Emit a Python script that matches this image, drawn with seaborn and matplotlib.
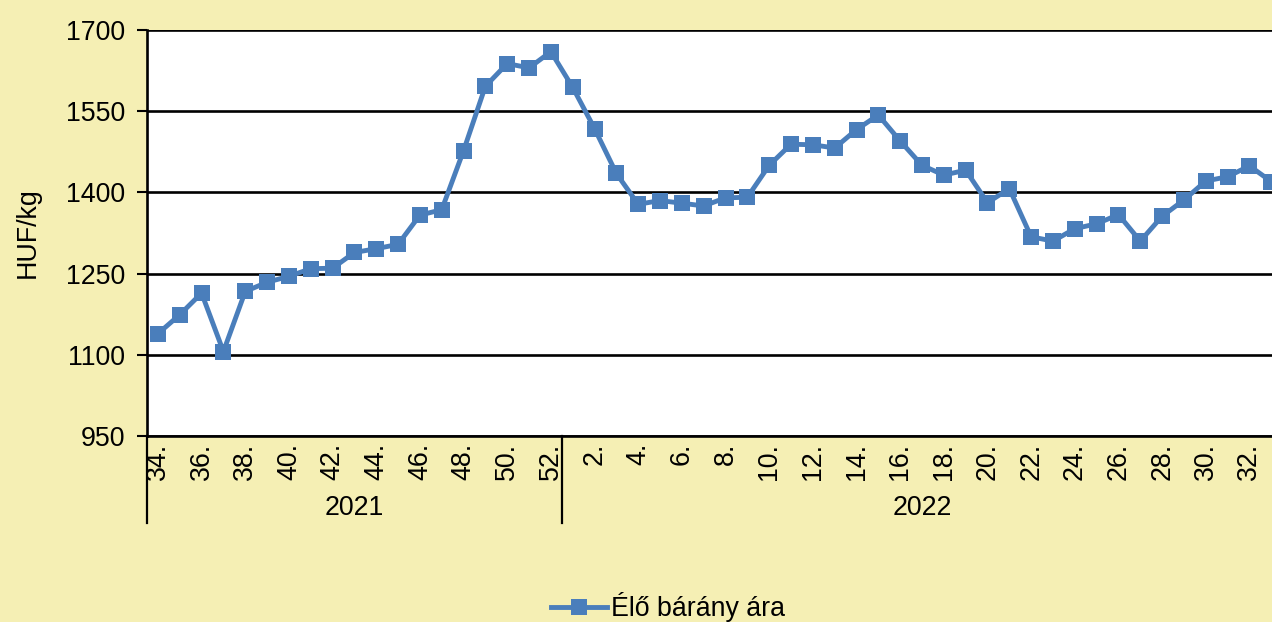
import matplotlib
matplotlib.use("Agg")
import matplotlib.pyplot as plt
import matplotlib.transforms as mtransforms
import seaborn as sns
import pandas as pd

# Weekly live lamb prices (HUF/kg)
weeks_2021 = list(range(34, 53))
weeks_2022 = list(range(1, 34))
prices_2021 = [1139, 1174, 1214, 1106, 1217, 1234, 1245, 1259, 1260, 1289,
               1296, 1304, 1358, 1368, 1477, 1596, 1638, 1630, 1660]
prices_2022 = [1594, 1518, 1435, 1378, 1385, 1380, 1375, 1390, 1391, 1450,
               1489, 1488, 1482, 1516, 1543, 1495, 1450, 1432, 1441, 1381,
               1407, 1318, 1310, 1333, 1342, 1359, 1310, 1356, 1386, 1421,
               1429, 1449, 1420]
years = ["2021", "2022"]
series_name = "Élő bárány ára"
y_label = "HUF/kg"
y_ticks = [950, 1100, 1250, 1400, 1550, 1700]

week_labels = [f"{w}." for w in weeks_2021] + [f"{w}." for w in weeks_2022]
df = pd.DataFrame({
    "idx": range(len(week_labels)),
    "price": prices_2021 + prices_2022,
})

BG = "#F5EFB4"
BLUE = "#4A7EBB"
FS = 19.3

plt.rcParams["font.family"] = ["Liberation Sans", "DejaVu Sans"]

fig = plt.figure(figsize=(12.72, 6.22), dpi=100, facecolor=BG)
W, H = 1272, 622
left, right, top, bottom = 147, 1282.2, 30, 436
ax = fig.add_axes([left / W, 1 - bottom / H, (right - left) / W, (bottom - top) / H])
ax.set_facecolor("white")

for y in y_ticks:
    ax.axhline(y, color="black", lw=1.9, zorder=1)

sns.lineplot(data=df, x="idx", y="price", ax=ax, color=BLUE, lw=3.5,
             marker="s", markersize=11, markeredgewidth=0, markerfacecolor=BLUE,
             label=series_name, legend=False, zorder=3)

ax.set_xlim(-0.5, len(week_labels) - 0.5)
ax.set_ylim(950, 1700)
ax.set_yticks(y_ticks)
ax.set_yticklabels([str(v) for v in y_ticks], fontsize=FS)
ax.tick_params(axis="y", length=7, width=1.5, pad=9, color="black")

ax.set_xticks(range(len(week_labels)))
shown = []
for i, lab in enumerate(week_labels):
    w = int(lab[:-1])
    shown.append(lab if w % 2 == 0 else "")
ax.set_xticklabels(shown, rotation=90, fontsize=FS, va="top", ha="center")
ax.tick_params(axis="x", length=0, pad=5)

for s in ["top", "right"]:
    ax.spines[s].set_visible(False)
ax.spines["left"].set_linewidth(1.9)
ax.spines["bottom"].set_linewidth(1.9)

ax.set_xlabel("")
ax.set_ylabel(y_label, fontsize=FS, labelpad=18)

# Year grouping below the week labels
trans = mtransforms.blended_transform_factory(ax.transData, ax.transAxes)
n21 = len(weeks_2021)
n_all = len(week_labels)
for xb in [-0.5, n21 - 0.5, n_all - 0.5]:
    ax.plot([xb, xb], [0, -0.215], transform=trans, color="black", lw=1.6,
            clip_on=False)
ax.text((n21 - 1) / 2, -0.177, years[0], transform=trans, ha="center",
        va="center", fontsize=FS)
ax.text((n21 - 0.5 + n_all - 0.5) / 2, -0.177, years[1], transform=trans,
        ha="center", va="center", fontsize=FS)

handles, labels = ax.get_legend_handles_labels()
fig.legend(handles, labels, loc="center", bbox_to_anchor=(668 / W, 1 - 607 / H),
           frameon=False, fontsize=FS, handlelength=2.1, handletextpad=0.15)

fig.savefig("out.png", dpi=100, facecolor=BG)
